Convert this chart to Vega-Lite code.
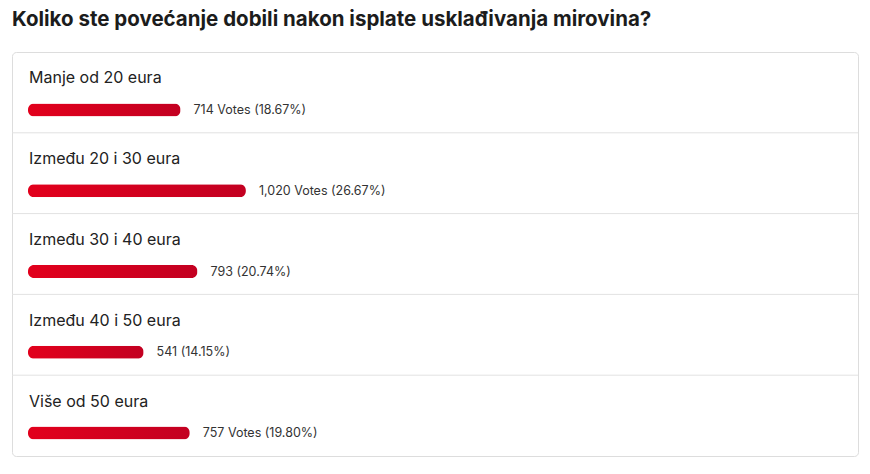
{
  "$schema": "https://vega.github.io/schema/vega-lite/v6.json",
  "width": 846,
  "height": 404,
  "autosize": "none",
  "padding": {"left": 12, "top": 52, "right": 12, "bottom": 18},
  "background": "white",
  "title": {
    "text": "Koliko ste povećanje dobili nakon isplate usklađivanja mirovina?",
    "anchor": "start",
    "frame": "group",
    "font": "Inter",
    "fontSize": 20.5,
    "fontWeight": 700,
    "color": "#1c1c1c",
    "offset": 22
  },
  "data": {
    "values": [
      {"option": "Manje od 20 eura", "votes": 714, "pct": 18.67, "result": "714 Votes (18.67%)"},
      {"option": "Između 20 i 30 eura", "votes": 1020, "pct": 26.67, "result": "1,020 Votes (26.67%)"},
      {"option": "Između 30 i 40 eura", "votes": 793, "pct": 20.74, "result": "793 (20.74%)"},
      {"option": "Između 40 i 50 eura", "votes": 541, "pct": 14.15, "result": "541 (14.15%)"},
      {"option": "Više od 50 eura", "votes": 757, "pct": 19.8, "result": "757 Votes (19.80%)"}
    ]
  },
  "encoding": {
    "y": {
      "field": "option",
      "type": "nominal",
      "sort": null,
      "scale": {
        "domain": ["Manje od 20 eura", "Između 20 i 30 eura", "Između 30 i 40 eura", "Između 40 i 50 eura", "Više od 50 eura"],
        "paddingInner": 0,
        "paddingOuter": 0
      },
      "axis": null
    }
  },
  "layer": [
    {
      "transform": [{"filter": "datum.option != 'Manje od 20 eura'"}],
      "mark": {"type": "rule", "color": "#e2e2e2", "strokeWidth": 1},
      "encoding": {
        "y": {"field": "option", "type": "nominal", "sort": null, "bandPosition": 0}
      }
    },
    {
      "mark": {
        "type": "bar",
        "height": 13,
        "yOffset": 17.5,
        "cornerRadius": 6,
        "color": {
          "gradient": "linear",
          "x1": 0, "y1": 0, "x2": 1, "y2": 0,
          "stops": [
            {"offset": 0, "color": "#e2001c"},
            {"offset": 1, "color": "#c30021"}
          ]
        }
      },
      "encoding": {
        "x": {
          "field": "pct",
          "type": "quantitative",
          "scale": {"domain": [-1.958, 101.59], "nice": false, "zero": false},
          "axis": null
        }
      }
    },
    {
      "mark": {
        "type": "text",
        "align": "left",
        "baseline": "middle",
        "dx": 13,
        "dy": 17.5,
        "font": "Inter",
        "fontSize": 12.5,
        "color": "#333333"
      },
      "encoding": {
        "x": {"field": "pct", "type": "quantitative"},
        "text": {"field": "result"}
      }
    },
    {
      "mark": {
        "type": "text",
        "align": "left",
        "baseline": "middle",
        "dx": 1,
        "dy": -14,
        "font": "Inter",
        "fontSize": 16,
        "color": "#222222"
      },
      "encoding": {
        "x": {"datum": 0, "type": "quantitative"},
        "text": {"field": "option"}
      }
    }
  ],
  "config": {
    "view": {"stroke": "#dddddd", "strokeWidth": 1, "cornerRadius": 4}
  }
}
